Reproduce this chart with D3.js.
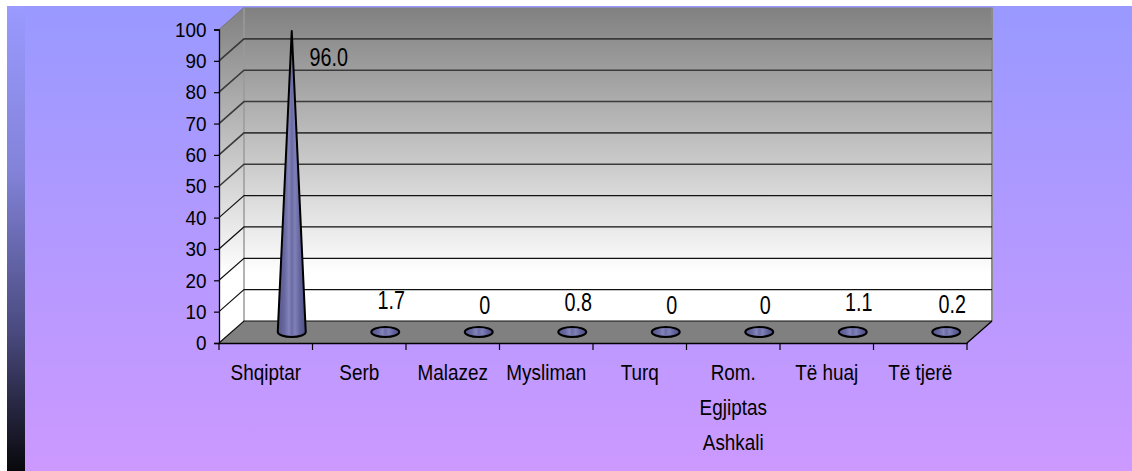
<!DOCTYPE html>
<html>
<head>
<meta charset="utf-8">
<script src="https://cdn.jsdelivr.net/npm/d3@7"></script>
<style>
  body { margin: 0; background: #fff; }
  svg { display: block; }
  text { font-family: "Liberation Sans", Arial, sans-serif; fill: #000; }
</style>
</head>
<body>
<svg width="1132" height="471"></svg>
<script>
// data
var categories = ["Shqiptar", "Serb", "Malazez", "Mysliman", "Turq", "Rom.\nEgjiptas\nAshkali", "Të huaj", "Të tjerë"];
var values = [96.0, 1.7, 0, 0.8, 0, 0, 1.1, 0.2];
var valueLabels = ["96.0", "1.7", "0", "0.8", "0", "0", "1.1", "0.2"];
var yTicks = [0, 10, 20, 30, 40, 50, 60, 70, 80, 90, 100];

var svg = d3.select("svg");
var defs = svg.append("defs");

// depth of the 3d box
var depthX = 25, depthY = 22;

var x = d3.scaleBand().domain(categories).range([219, 967]).padding(0);
var y = d3.scaleLinear().domain([0, 100]).range([343, 29.5]);

// gradients
var bg = defs.append("linearGradient").attr("id", "bg").attr("x1", 0).attr("y1", 0).attr("x2", 0).attr("y2", 1);
bg.append("stop").attr("offset", 0).attr("stop-color", "#9999ff");
bg.append("stop").attr("offset", 1).attr("stop-color", "#cc99ff");

var strip = defs.append("linearGradient").attr("id", "strip").attr("x1", 0).attr("y1", 0).attr("x2", 0).attr("y2", 1);
strip.append("stop").attr("offset", 0).attr("stop-color", "#9a9aff");
strip.append("stop").attr("offset", 0.35).attr("stop-color", "#8383da");
strip.append("stop").attr("offset", 0.7).attr("stop-color", "#4a4a80");
strip.append("stop").attr("offset", 1).attr("stop-color", "#08080c");

var wall = defs.append("linearGradient").attr("id", "wall")
  .attr("gradientUnits", "userSpaceOnUse")
  .attr("x1", 0).attr("x2", 0)
  .attr("y1", y(100) - depthY).attr("y2", y(0) - depthY);
wall.append("stop").attr("offset", 0).attr("stop-color", "#808080");
wall.append("stop").attr("offset", 0.85).attr("stop-color", "#ffffff");

var cone = defs.append("linearGradient").attr("id", "cone").attr("x1", 0).attr("y1", 0).attr("x2", 1).attr("y2", 0);
[["0", "#55558a"], ["0.25", "#6a6aa2"], ["0.4", "#8484bb"], ["0.5", "#6c6ca4"], ["0.62", "#8080b8"], ["0.8", "#62629a"], ["1", "#50508a"]]
  .forEach(function (s) {
    cone.append("stop").attr("offset", s[0]).attr("stop-color", s[1]);
  });

// background
svg.append("rect").attr("x", 7).attr("y", 6).attr("width", 1125).attr("height", 465).attr("fill", "url(#bg)");
svg.append("rect").attr("x", 7).attr("y", 6).attr("width", 18).attr("height", 465).attr("fill", "url(#strip)");

var x0 = x.range()[0], x1 = x.range()[1];
var yTop = y(100), yBot = y(0);

// back wall
svg.append("rect")
  .attr("x", x0 + depthX).attr("y", yTop - depthY)
  .attr("width", x1 - x0).attr("height", yBot - yTop)
  .attr("fill", "url(#wall)");

// side wall
svg.append("path")
  .attr("d", "M" + x0 + "," + yTop + "L" + (x0 + depthX) + "," + (yTop - depthY) +
    "L" + (x0 + depthX) + "," + (yBot - depthY) + "L" + x0 + "," + yBot + "Z")
  .attr("fill", "url(#wall)");

// floor
svg.append("path")
  .attr("d", "M" + x0 + "," + yBot + "L" + (x0 + depthX) + "," + (yBot - depthY) +
    "L" + (x1 + depthX) + "," + (yBot - depthY) + "L" + x1 + "," + yBot + "Z")
  .attr("fill", "#808080");

// wall edges
svg.append("line")
  .attr("x1", x0 + depthX).attr("x2", x0 + depthX)
  .attr("y1", yTop - depthY).attr("y2", yBot - depthY)
  .attr("stroke", "#9a9a9a").attr("stroke-width", 1.5);
svg.append("line")
  .attr("x1", x1 + depthX).attr("x2", x1 + depthX)
  .attr("y1", yTop - depthY).attr("y2", yBot - depthY)
  .attr("stroke", "#8c8c8c").attr("stroke-width", 2);

// gridlines on side and back wall
var grid = svg.append("g");
grid.selectAll("path")
  .data(yTicks.filter(function (d) { return d < 100; }))
  .enter()
  .append("path")
  .attr("d", function (d) {
    return "M" + x0 + "," + y(d) + "L" + (x0 + depthX) + "," + (y(d) - depthY) +
      "L" + (x1 + depthX) + "," + (y(d) - depthY);
  })
  .attr("fill", "none")
  .attr("stroke", function (d) { return d >= 50 ? "#3a3a3a" : "#111"; })
  .attr("stroke-width", function (d) { return d >= 50 ? 1.6 : 1.2; });

// side top edge
svg.append("line")
  .attr("x1", x0).attr("y1", yTop)
  .attr("x2", x0 + depthX).attr("y2", yTop - depthY)
  .attr("stroke", "#777").attr("stroke-width", 1);

// floor right edge
svg.append("line")
  .attr("x1", x1).attr("y1", yBot)
  .attr("x2", x1 + depthX).attr("y2", yBot - depthY)
  .attr("stroke", "#000").attr("stroke-width", 1.3);

// y axis
var yAxis = svg.append("g")
  .attr("transform", "translate(" + x0 + ",0)")
  .call(d3.axisLeft(y).tickValues(yTicks).tickSize(5).tickPadding(9));
yAxis.select(".domain").attr("stroke", "#000").attr("stroke-width", 1.3);
yAxis.selectAll(".tick line").attr("stroke", "#000").attr("stroke-width", 1.2);
yAxis.selectAll(".tick text")
  .attr("font-size", 21)
  .attr("font-family", "Liberation Sans, Arial, sans-serif")
  .attr("fill", "#000")
  .attr("transform", "scale(0.9,1)");

// x axis: line, ticks at category boundaries
var xAxis = svg.append("g")
  .attr("transform", "translate(0," + yBot + ")")
  .call(d3.axisBottom(x).tickSize(0).tickFormat(""));
xAxis.select(".domain").attr("stroke", "#000").attr("stroke-width", 1.3);

var bounds = categories.map(function (c) { return x(c); }).concat([x1]);
svg.append("g").selectAll("line")
  .data(bounds)
  .enter()
  .append("line")
  .attr("x1", function (d) { return d; }).attr("x2", function (d) { return d; })
  .attr("y1", yBot).attr("y2", yBot + 7)
  .attr("stroke", "#000").attr("stroke-width", 1.2);

// category labels
var catLabels = svg.append("g").selectAll("text")
  .data(categories)
  .enter()
  .append("text")
  .attr("text-anchor", "middle")
  .attr("font-size", 22)
  .attr("transform", function (d) {
    return "translate(" + (x(d) + x.bandwidth() / 2) + ",380) scale(0.86,1)";
  });
catLabels.each(function (d) {
  var t = d3.select(this);
  d.split("\n").forEach(function (line, i) {
    t.append("tspan").attr("x", 0).attr("y", i * 35).text(line);
  });
});

// cones
var baseRx = 14, baseRy = 5;
var coneShift = 26;
var baseY = yBot - depthY / 2;

function conePath(cx, h) {
  if (h <= baseRy + 0.5) {
    return "M" + (cx - baseRx) + "," + baseY +
      "A" + baseRx + "," + baseRy + " 0 1 0 " + (cx + baseRx) + "," + baseY +
      "A" + baseRx + "," + baseRy + " 0 1 0 " + (cx - baseRx) + "," + baseY + "Z";
  }
  var ty = baseY - baseRy * baseRy / h;
  var tx = baseRx * Math.sqrt(1 - (baseRy * baseRy) / (h * h));
  return "M" + (cx - tx) + "," + ty +
    "A" + baseRx + "," + baseRy + " 0 1 0 " + (cx + tx) + "," + ty +
    "L" + cx + "," + (baseY - h) + "Z";
}

var cones = svg.append("g").selectAll("g")
  .data(categories)
  .enter()
  .append("g");

cones.append("path")
  .attr("d", function (d, i) {
    var cx = x(d) + x.bandwidth() / 2 + coneShift;
    return conePath(cx, yBot - y(values[i]));
  })
  .attr("fill", "url(#cone)")
  .attr("stroke", "#000")
  .attr("stroke-width", 2)
  .attr("stroke-linejoin", "round");

// value labels
svg.append("g").selectAll("text")
  .data(categories)
  .enter()
  .append("text")
  .attr("text-anchor", "middle")
  .attr("font-size", 26)
  .attr("transform", function (d, i) {
    var cx = x(d) + x.bandwidth() / 2 + coneShift;
    var apex = baseY - (yBot - y(values[i]));
    var lx = cx + 6, ly = apex - 18;
    if (ly < yTop + 20) { lx = cx + 37; ly = apex + 35; }
    return "translate(" + lx + "," + ly + ") scale(0.76,1)";
  })
  .text(function (d, i) { return valueLabels[i]; });
</script>
</body>
</html>
